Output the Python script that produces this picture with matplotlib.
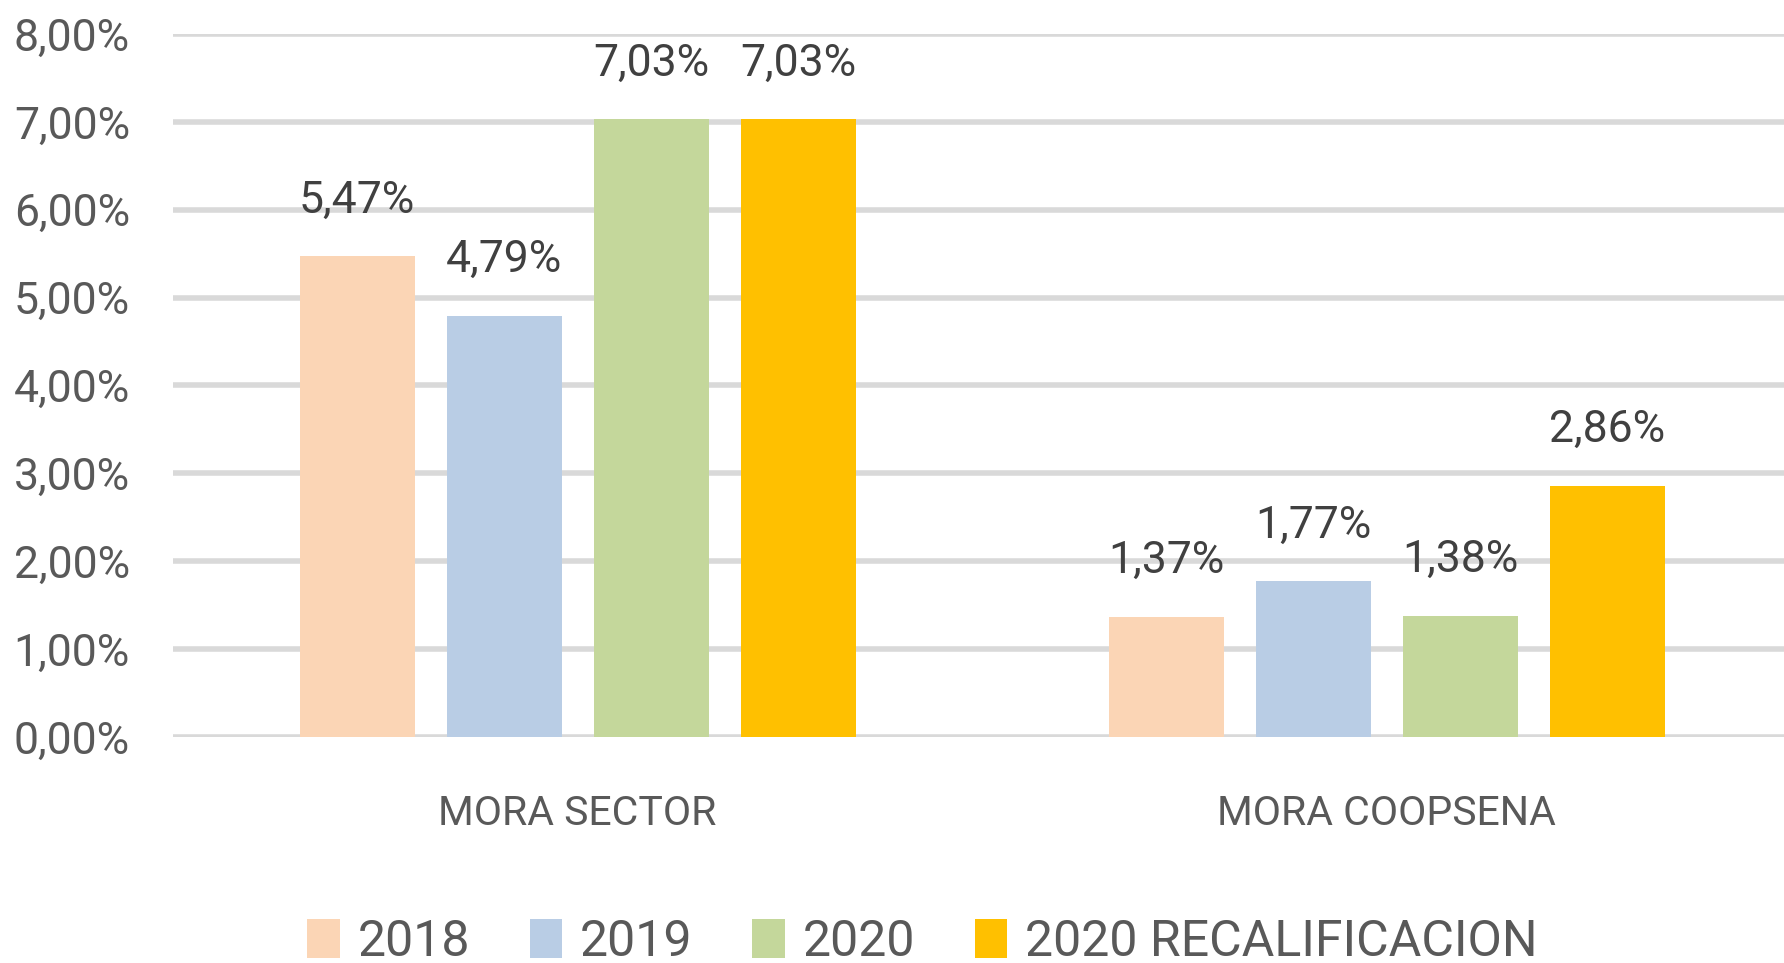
import matplotlib.pyplot as plt
import numpy as np
from matplotlib.ticker import FuncFormatter

plt.rcParams["font.family"] = ["Roboto", "DejaVu Sans"]

# Data
categories = ["MORA SECTOR", "MORA COOPSENA"]
series_names = ["2018", "2019", "2020", "2020 RECALIFICACION"]
values = {
    "2018": [5.47, 1.37],
    "2019": [4.79, 1.77],
    "2020": [7.03, 1.38],
    "2020 RECALIFICACION": [7.03, 2.86],
}
colors = ["#fbd5b5", "#b9cde5", "#c4d79b", "#ffc000"]


def pct(v):
    return f"{v:.2f}%".replace(".", ",")


fig = plt.figure(figsize=(17.84, 9.63), dpi=100)
ax = fig.add_axes([0.097, 0.2347, 0.903, 0.73])

x = np.arange(len(categories))
step = 0.1817
width = 0.142
for i, name in enumerate(series_names):
    pos = x + (i - 1.5) * step
    bars = ax.bar(pos, values[name], width, color=colors[i], label=name, zorder=3)
    for b, v in zip(bars, values[name]):
        ax.annotate(pct(v), (b.get_x() + b.get_width() / 2, v),
                    xytext=(0, 25), textcoords="offset points",
                    ha="center", va="bottom", fontsize=32, color="#404040")

ax.set_xlim(-0.5, 1.491)
ax.set_ylim(0, 8)
ax.set_yticks(np.arange(0, 9, 1))
ax.yaxis.set_major_formatter(FuncFormatter(lambda v, p: pct(v)))
ax.grid(axis="y", color="#d9d9d9", linewidth=4, zorder=0)
ax.set_xticks(x)
ax.set_xticklabels(categories)
ax.tick_params(axis="both", length=0, labelsize=32, labelcolor="#595959")
ax.tick_params(axis="x", labelsize=29.5, pad=41)
ax.tick_params(axis="y", pad=31)
for s in ax.spines.values():
    s.set_visible(False)

fig.legend(loc="center", bbox_to_anchor=(0.517, 0.022), ncol=4, frameon=False,
           fontsize=36, labelcolor="#595959", handlelength=0.65, handleheight=0.85,
           handletextpad=0.35, columnspacing=1.2)

fig.savefig("out.png", dpi=100)
